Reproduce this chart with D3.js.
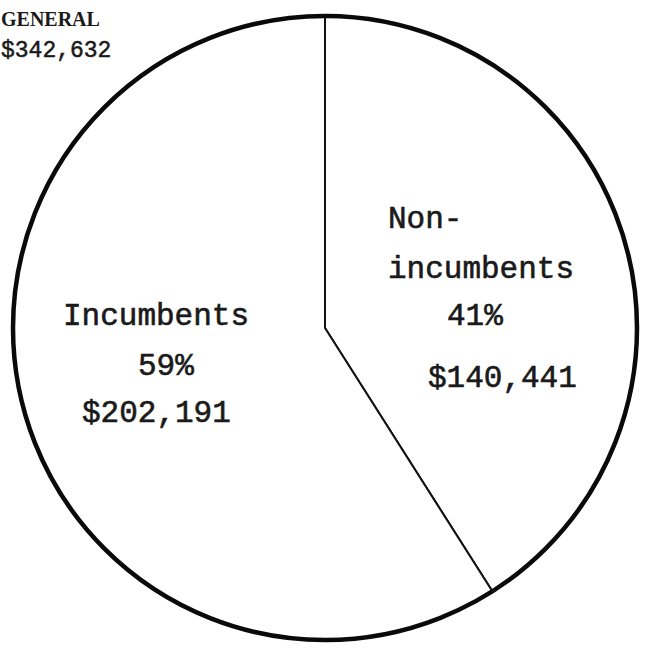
<!DOCTYPE html>
<html>
<head>
<meta charset="utf-8">
<script src="https://cdn.jsdelivr.net/npm/d3@7"></script>
<style>
  html, body { margin: 0; padding: 0; background: #fff; }
  svg { display: block; }
</style>
</head>
<body>
<div id="pie-container"></div>
<script>
// data
const categories = ["Non-incumbents", "Incumbents"];
const amounts = [140441, 202191];
const percents = ["41%", "59%"];
const labelLines = [["Non-", "incumbents"], ["Incumbents"]];
const totalTitle = "GENERAL";
const totalAmount = "$342,632";

const width = 648;
const height = 649;
const cx = 325;
const cy = 328;
const outerRadius = 312;

const data = categories.map((c, i) => ({
  name: c,
  value: amounts[i],
  pct: percents[i],
  lines: labelLines[i],
}));

// label placement, offsets from the centre of the pie
const labelLayout = {
  "Non-incumbents": { x: 63, lines: [-100, -50], pct: [122, -3], amt: [103, 59] },
  "Incumbents": { x: -262, lines: [-3], pct: [-187, 47], amt: [-243, 94] },
};

const fmt = d3.format("$,");

const svg = d3
  .select("#pie-container")
  .append("svg")
  .attr("width", width)
  .attr("height", height);

const g = svg.append("g").attr("transform", `translate(${cx}, ${cy})`);

const pieGenerator = d3
  .pie()
  .sort(null)
  .value((d) => d.value);

const arcGenerator = d3.arc().innerRadius(0).outerRadius(outerRadius);

const arcs = pieGenerator(data);

// sectors with thin dividing lines
g.selectAll("path.slice")
  .data(arcs)
  .enter()
  .append("path")
  .attr("class", "slice")
  .attr("d", arcGenerator)
  .style("fill", "#ffffff")
  .style("stroke", "#111")
  .style("stroke-width", 2)
  .style("stroke-linejoin", "round");

// heavier outer rim
g.append("circle")
  .attr("r", outerRadius)
  .style("fill", "none")
  .style("stroke", "#0a0a0a")
  .style("stroke-width", 4.5);

const mono = "'Liberation Mono', 'Courier New', monospace";

arcs.forEach((a) => {
  const d = a.data;
  const lay = labelLayout[d.name];
  const txt = (s, x, y) =>
    g.append("text")
      .attr("x", x)
      .attr("y", y)
      .style("font-family", mono)
      .style("font-size", "31px")
      .style("fill", "#1a1a1a")
      .style("stroke", "#1a1a1a")
      .style("stroke-width", 0.6)
      .text(s);
  d.lines.forEach((l, i) => txt(l, lay.x, lay.lines[i]));
  txt(d.pct, lay.pct[0], lay.pct[1]);
  txt(fmt(d.value), lay.amt[0], lay.amt[1]);
});

// total, top-left corner
svg.append("text")
  .attr("x", 1)
  .attr("y", 26)
  .style("font-family", "'Liberation Serif', 'DejaVu Serif', serif")
  .style("font-weight", "bold")
  .style("font-size", "20px")
  .style("fill", "#1a1a1a")
  .text(totalTitle);

svg.append("text")
  .attr("x", 1)
  .attr("y", 57)
  .style("font-family", mono)
  .style("font-size", "23px")
  .style("fill", "#1a1a1a")
  .style("stroke", "#1a1a1a")
  .style("stroke-width", 0.5)
  .text(totalAmount);
</script>
</body>
</html>
